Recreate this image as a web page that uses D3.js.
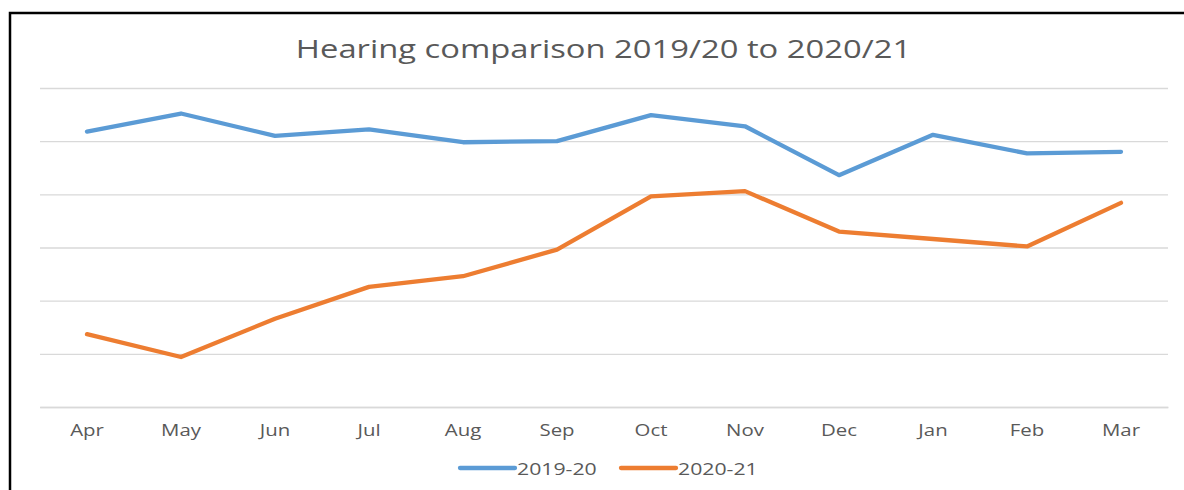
<!DOCTYPE html>
<html>
<head>
<meta charset="utf-8">
<script src="https://cdn.jsdelivr.net/npm/d3@7"></script>
<style>
  html, body { margin: 0; padding: 0; background: #fff; }
  svg { display: block; }
  text { font-family: "Open Sans", "Noto Sans", sans-serif; fill: #595959; }
</style>
</head>
<body>
<svg id="chart" width="1184" height="490"></svg>
<script>
const months = ["Apr","May","Jun","Jul","Aug","Sep","Oct","Nov","Dec","Jan","Feb","Mar"];
const series2019 = [259, 276, 255, 261, 249, 250, 274.5, 264, 218, 256, 238.5, 240];
const series2020 = [68.5, 47, 83, 113, 123, 148, 198, 203, 165, 158, 151, 192];
const yTicks = [0, 50, 100, 150, 200, 250, 300];
const seriesNames = ["2019-20", "2020-21"];
const seriesColors = ["#5B9BD5", "#ED7D31"];
const title = "Hearing comparison 2019/20 to 2020/21";

const svg = d3.select("#chart");
const W = 1184, H = 490;
const plot = { left: 40, right: 1168, top: 88, bottom: 407 };
const SX = 1.2; // horizontal stretch of the reference text

// outer border (top + left)
svg.append("path")
  .attr("d", `M10,${H} L10,13 L${W},13`)
  .attr("fill", "none").attr("stroke", "#000").attr("stroke-width", 2.5);

const x = d3.scaleBand().domain(months).range([plot.left, plot.right]);
const y = d3.scaleLinear().domain([0, 300]).range([plot.bottom, plot.top]);

// gridlines
const yAxis = d3.axisLeft(y).tickValues(yTicks).tickSize(-(plot.right - plot.left)).tickFormat("");
const gy = svg.append("g").attr("transform", `translate(${plot.left},0)`).call(yAxis);
gy.select(".domain").remove();
gy.selectAll(".tick line").attr("stroke", "#d9d9d9").attr("stroke-width", 1.3);

// bottom axis
const xAxis = d3.axisBottom(x).tickSize(0).tickPadding(17);
const gx = svg.append("g").attr("transform", `translate(0,${plot.bottom})`).call(xAxis);
gx.select(".domain").attr("stroke", "#d9d9d9").attr("stroke-width", 1.3);
gx.selectAll(".tick text")
  .attr("font-size", 17)
  .attr("fill", "#595959")
  .style("font-family", '"Open Sans", sans-serif')
  .attr("transform", `scale(${SX},1)`);

// lines
const line = d3.line().x((d, i) => x(months[i]) + x.bandwidth() / 2).y(d => y(d));
[series2019, series2020].forEach((s, k) => {
  svg.append("path")
    .datum(s)
    .attr("d", line)
    .attr("fill", "none")
    .attr("stroke", seriesColors[k])
    .attr("stroke-width", 4.3)
    .attr("stroke-linecap", "round")
    .attr("stroke-linejoin", "round");
});

// title
svg.append("text")
  .attr("transform", `translate(603.5,58) scale(1.26,1)`)
  .attr("text-anchor", "middle")
  .attr("font-size", 26)
  .text(title);

// legend
const legStart = 460, legY = 468, legLine = 55, legGap = 2, legItemW = 161;
seriesNames.forEach((name, k) => {
  const x0 = legStart + k * legItemW;
  svg.append("line")
    .attr("x1", x0).attr("x2", x0 + legLine)
    .attr("y1", legY).attr("y2", legY)
    .attr("stroke", seriesColors[k]).attr("stroke-width", 4.3).attr("stroke-linecap", "round");
  svg.append("text")
    .attr("transform", `translate(${x0 + legLine + legGap},475) scale(1.25,1)`)
    .attr("font-size", 17)
    .text(name);
});
</script>
</body>
</html>
